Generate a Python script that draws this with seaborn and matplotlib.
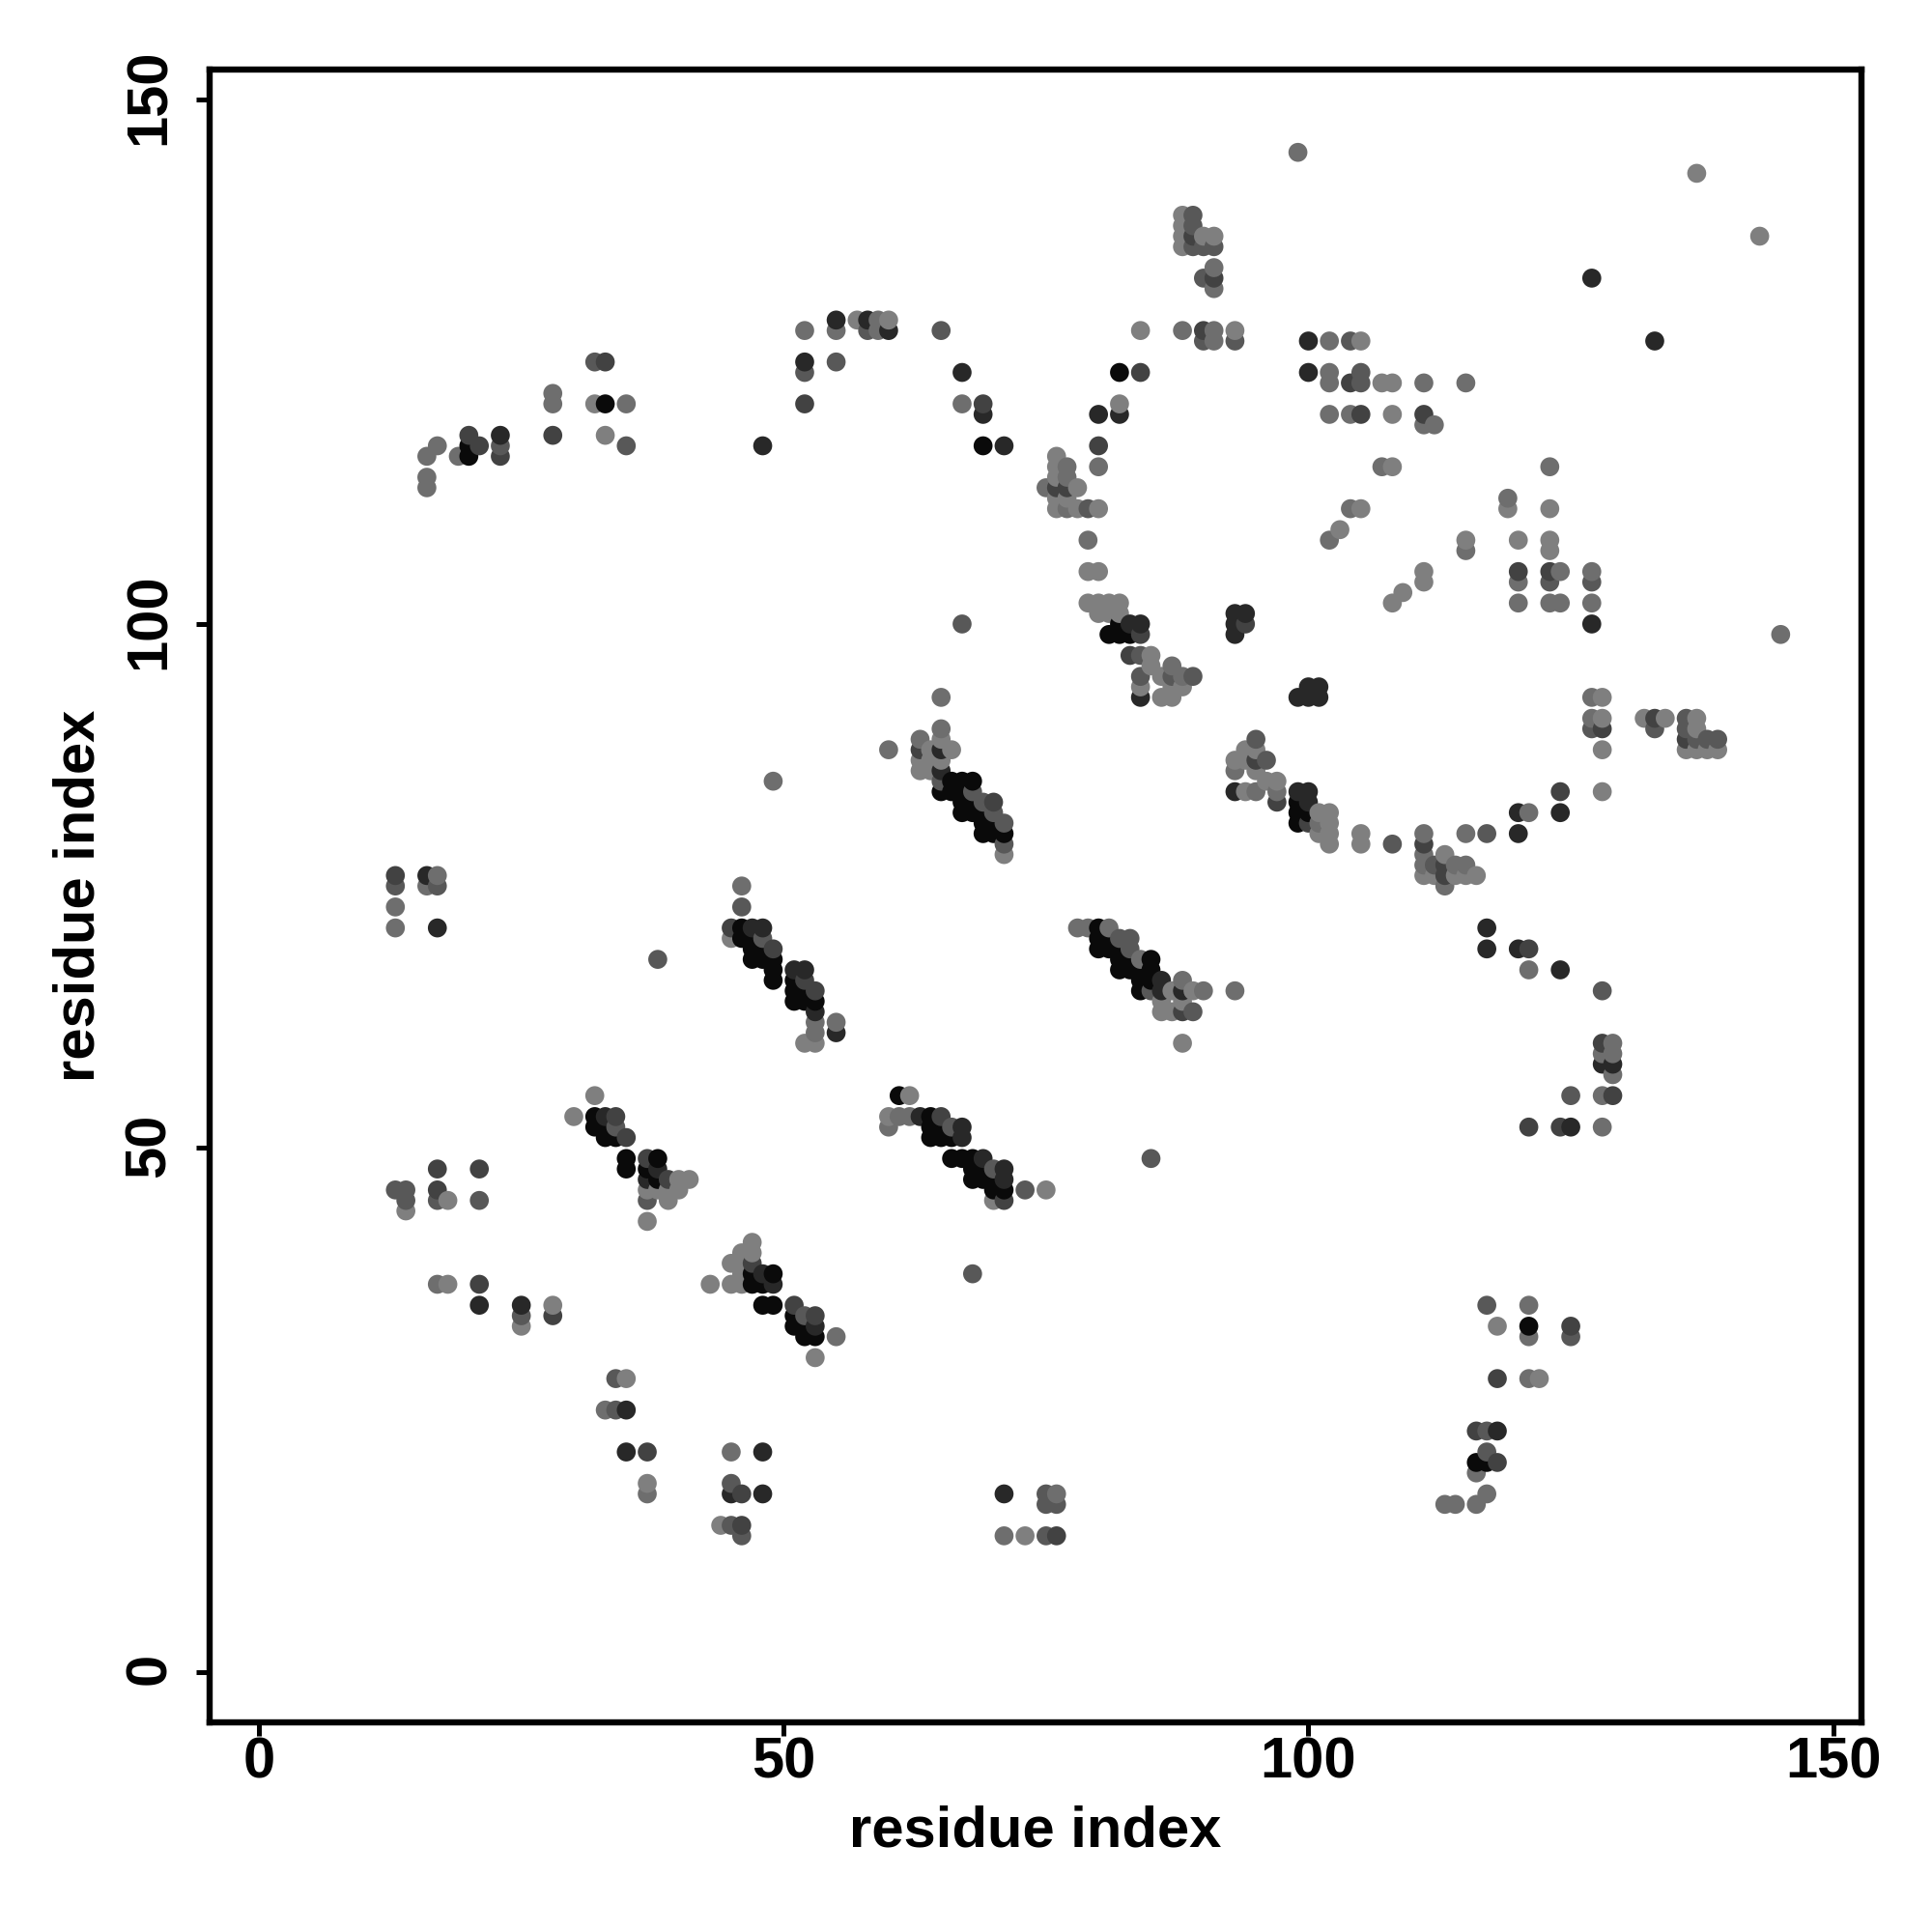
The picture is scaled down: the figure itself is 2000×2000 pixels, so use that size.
import matplotlib
matplotlib.use("Agg")
import matplotlib.pyplot as plt
from matplotlib.transforms import ScaledTranslation
import pandas as pd
import seaborn as sns

contacts_black = [(48,35),(49,35),(51,34),(51,33),(52,33),(52,32),(53,32),
(61,55),(64,53),(64,52),(65,52),(64,51),(65,51),(66,51),(66,49),(67,49),(68,49),(68,48),(69,48),(68,47),(69,47),(70,47),(70,46),(71,46),
(32,53),(32,52),(33,52),(33,51),(34,51),(35,49),(35,48),(38,49),(37,48),(38,47),
(47,38),(49,38),(47,37),(48,37),
(46,71),(46,70),(47,70),(47,69),(48,69),(47,68),(48,68),(49,68),(49,67),(49,66),(51,66),(51,65),(52,65),(51,64),(52,64),(53,64),
(80,71),(80,70),(81,70),(80,69),(81,69),(82,69),(82,68),(83,68),(85,68),(82,67),(83,67),(84,67),(85,67),(84,66),(85,66),(84,65),
(66,85),(67,85),(68,85),(65,84),(66,84),(67,84),(67,83),(68,83),(67,82),(68,82),(69,82),(69,81),(70,81),(69,80),(70,80),(71,80),
(82,100),(81,99),(82,99),(83,99),(99,83),(99,82),(100,82),(99,81),
(116,20),(117,20),(121,33),(33,121),(20,117),(20,116),(69,117),(82,124)]

contacts_dark = [(21,35),(25,35),(35,21),(48,21),(45,17),(35,25),(48,17),(53,33),(63,53),(67,52),(67,51),(69,49),(71,48),(71,47),
(33,53),(37,47),(38,48),(48,38),(49,37),(47,71),(48,71),(51,67),(52,67),(53,63),(55,61),(86,66),(86,65),(88,65),
(80,120),(82,120),(83,100),(84,100),(84,93),(93,101),(94,101),(93,100),(93,99),(93,84),(99,84),(100,84),(100,83),
(120,82),(120,80),(117,71),(117,69),(120,69),(48,117),(71,117),(67,124),(69,120),(127,133),(133,127),(100,127),
(99,93),(100,93),(101,93),(100,94),(101,94),(125,52),(128,58),(129,58),(118,23),(124,82),(124,67),(127,100),
(23,118),(55,129),(58,129),(60,128),(100,124),(71,17),(17,71),(16,76),(52,125),(65,86),(65,88)]

contacts_dim = [(28,34),(37,21),(46,14),(46,17),(53,34),(51,35),(65,53),(71,45),(34,53),(35,51),(37,49),(39,47),(47,39),(45,71),
(49,69),(52,66),(53,65),(63,88),(88,63),(95,87),(97,83),(83,97),(84,99),(94,100),(76,113),(77,113),(80,117),(90,128),(89,137),
(91,133),(120,105),(123,105),(125,33),(118,28),(121,52),(124,52),(129,55),(128,60),(116,23),(118,20),(121,69),(113,77),(113,76),
(100,81),(133,91),(128,90),(136,89),(124,84),(105,120),(104,123),(111,120),(84,124),(33,125),(28,118),(20,118),(21,117),(23,116),
(52,121),(69,121),(13,76),(17,48),(17,46),(21,48),(21,37),(70,83),(111,79),(76,13)]

contacts_mid = [(34,28),(34,25),(25,34),(45,14),(46,13),(45,18),(52,34),(66,52),(70,48),(73,46),(85,49),(68,38),(34,52),(37,45),
(46,73),(48,70),(82,70),(83,70),(83,69),(85,65),(89,63),(67,100),(65,85),(68,84),(69,83),(70,82),(71,81),(71,79),(65,128),(79,111),
(84,97),(84,95),(87,95),(89,95),(95,89),(96,87),(108,79),(112,77),(117,80),(127,104),(127,90),(123,104),(125,55),(128,65),(117,35),
(125,32),(117,23),(117,21),(89,139),(89,138),(89,136),(90,136),(91,136),(90,133),(90,127),(93,127),(136,91),(136,90),(137,89),(138,89),
(139,89),(133,90),(105,124),(105,123),(104,127),(13,75),(14,46),(13,46),(14,45),(17,45),(21,45),(17,75),(75,17),(75,16),(76,16),(75,13),
(55,125),(32,125),(35,117),(23,117),(52,124),(58,128),(38,68)]

contacts_pale = [(33,25),(37,17),(45,21),(55,32),(60,52),(62,53),(61,53),(71,13),(53,62),(53,61),(55,62),(46,75),(49,85),(78,71),(79,71),
(81,71),(84,68),(60,88),(65,93),(65,90),(63,89),(111,80),(111,78),(111,77),(115,80),(114,77),(115,77),(113,75),(102,123),(115,123),
(111,123),(102,120),(104,120),(111,119),(112,119),(107,115),(123,115),(104,111),(102,108),(115,107),(119,112),(121,82),(99,145),(145,99),
(80,115),(79,108),(77,115),(75,113),(77,114),(77,111),(93,86),(95,84),(97,84),(101,81),(87,96),(88,95),(90,65),(93,65),(88,66),(88,128),
(91,128),(91,127),(91,134),(91,132),(102,127),(127,105),(127,102),(124,102),(123,102),(124,105),(127,93),(127,91),(128,55),(128,52),
(129,60),(128,59),(129,59),(129,57),(121,67),(121,35),(121,28),(116,19),(117,17),(113,16),(114,16),(116,16),(121,32),(16,75),(17,76),
(13,73),(13,71),(17,37),(16,116),(17,117),(19,116),(16,114),(16,113),(28,122),(28,121),(35,121),(67,121),(52,128),(55,128),(59,129),
(59,128),(76,17),(120,104),(120,102),(102,124)]

contacts_light = [(44,14),(35,28),(37,18),(28,35),(25,33),(18,37),(18,45),(14,44),(53,30),(30,53),(32,55),(62,55),(60,53),(70,45),(75,46),
(40,47),(41,47),(37,46),(38,46),(39,46),(40,46),(39,45),(37,43),(47,41),(47,40),(46,40),(45,39),(46,39),(46,38),(43,37),(45,37),(46,37),
(45,70),(52,60),(53,60),(87,65),(89,65),(88,60),(86,63),(87,63),(86,64),(88,64),(65,89),(64,88),(66,88),(63,87),(64,87),(65,87),(63,86),
(64,86),(71,78),(76,116),(76,115),(76,114),(78,113),(76,112),(77,112),(76,111),(78,111),(80,111),(79,105),(80,105),(79,102),(80,102),
(81,102),(82,102),(80,101),(81,101),(82,101),(85,97),(85,96),(86,95),(84,94),(87,94),(88,94),(86,93),(87,93),(94,88),(95,88),(93,87),
(94,87),(95,86),(96,85),(97,85),(94,84),(101,82),(102,82),(102,81),(101,80),(102,80),(102,79),(105,80),(105,79),(113,78),(112,76),(111,76),
(114,76),(115,76),(116,76),(128,84),(128,88),(128,93),(128,91),(132,91),(134,91),(137,91),(137,90),(136,88),(137,88),(138,88),(139,88),
(137,143),(143,137),(88,139),(88,138),(88,137),(88,136),(90,137),(91,137),(93,128),(84,128),(107,123),(108,123),(108,120),(108,115),
(105,111),(103,109),(115,108),(119,111),(123,111),(120,108),(123,108),(123,107),(108,102),(109,103),(111,104),(111,105),(118,33),(122,28),
(105,127),(82,121),(33,118),(32,121),(57,129),(60,129),(73,13)]

tick_values = [0, 50, 100, 150]
axis_label = "residue index"

groups = {"black": contacts_black, "dark": contacts_dark, "dim": contacts_dim,
          "mid": contacts_mid, "pale": contacts_pale, "light": contacts_light}
shades = {"black": "#0a0a0a", "dark": "#282828", "dim": "#424242",
          "mid": "#585858", "pale": "#6e6e6e", "light": "#7f7f7f"}

rows = [(i, j, name) for name, pts in groups.items() for i, j in pts]
df = pd.DataFrame(rows, columns=["i", "j", "shade"]).sort_values(["i", "j"], kind="stable")

sns.set_theme(style="white")
plt.rcParams["font.family"] = ["Liberation Sans", "DejaVu Sans"]
plt.rcParams["font.weight"] = "bold"

fig = plt.figure(figsize=(10, 10), dpi=200)
ax = fig.add_axes([217/2000, 1 - 1783/2000, (1927-217)/2000, (1783-72)/2000])
sns.scatterplot(data=df, x="i", y="j", hue="shade", palette=shades, s=50, linewidth=0,
                legend=False, ax=ax, zorder=3)
ax.set_xlim(-4.7, 152.7)
ax.set_ylim(-4.8, 152.9)
ax.set_xticks(tick_values)
ax.set_yticks(tick_values)
ax.tick_params(axis="x", direction="out", length=5, width=1.8, color="black",
               labelsize=21.5, labelcolor="black", pad=0.3, bottom=True)
ax.tick_params(axis="y", direction="out", length=5, width=1.8, color="black",
               labelsize=21.5, labelcolor="black", pad=17.2, left=True)
up = ScaledTranslation(0, 1.1 / 72, fig.dpi_scale_trans)
for lab in ax.get_yticklabels():
    lab.set_rotation(90)
    lab.set_va("center")
    lab.set_rotation_mode("anchor")
    lab.set_ha("center")
    lab.set_transform(lab.get_transform() + up)
for lab in ax.get_xticklabels() + ax.get_yticklabels():
    lab.set_fontweight("bold")
for s in ax.spines.values():
    s.set_visible(True)
    s.set_linewidth(2.3)
    s.set_color("black")
ax.set_xlabel(axis_label, fontsize=21.5, fontweight="bold", color="black", labelpad=5.5)
ax.set_ylabel(axis_label, fontsize=21.5, fontweight="bold", color="black", labelpad=6.6)
fig.savefig("out.png", dpi=200, facecolor="white")
